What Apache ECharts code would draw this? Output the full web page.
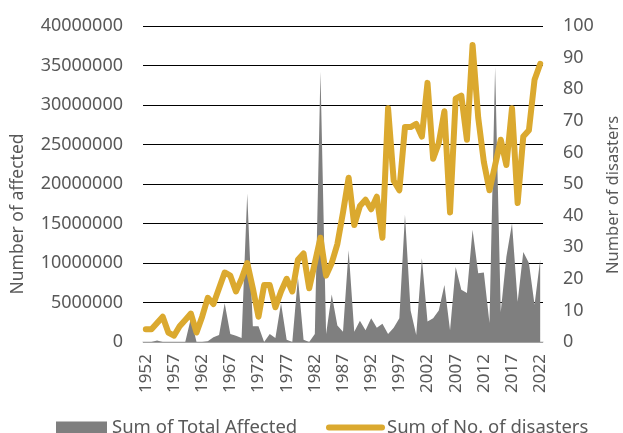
<!DOCTYPE html>
<html lang="en">
<head>
    <meta charset="UTF-8">
    <title>Disasters</title>
    <style>
        html, body { margin: 0; padding: 0; background: #fff; }
        #chart { width: 623px; height: 433px; }
    </style>
</head>
<body>
    <div id="chart"></div>

    <script src="https://cdn.jsdelivr.net/npm/echarts@6/dist/echarts.min.js"></script>
    <script>
        var years = [];
        for (var y = 1952; y <= 2022; y++) years.push(String(y));

        // Sum of Total Affected (people)
        var totalAffected = [
            0, 0, 200000, 0, 0, 0, 0, 0, 3000000, 0,
            0, 100000, 600000, 900000, 4900000, 1000000, 800000, 500000, 18800000, 2000000,
            2000000, 0, 1000000, 500000, 4900000, 300000, 0, 8200000, 300000, 0,
            1000000, 34200000, 1000000, 6000000, 2100000, 1300000, 11600000, 1300000, 2700000, 1500000,
            3000000, 1800000, 2300000, 1000000, 1800000, 3000000, 16100000, 4000000, 900000, 10600000,
            2600000, 3000000, 4000000, 7200000, 1500000, 9500000, 6600000, 6200000, 14200000, 8700000,
            8800000, 2400000, 34800000, 3800000, 10800000, 15000000, 5100000, 11400000, 10000000, 4700000,
            10400000
        ];

        // Sum of No. of disasters
        var numDisasters = [
            4, 4, 6, 8, 3, 2, 5, 7, 9, 3,
            8, 14, 12, 17, 22, 21, 16, 20, 25, 17,
            8, 18, 18, 11, 16, 20, 16, 26, 28, 17,
            25, 33, 21, 25, 31, 41, 52, 37, 43, 45,
            42, 46, 33, 74, 51, 48, 68, 68, 69, 65,
            82, 58, 63, 73, 41, 77, 78, 64, 94, 71,
            57, 48, 56, 64, 56, 74, 44, 65, 67, 83,
            88
        ];

        var leftTicks = { min: 0, max: 40000000, interval: 5000000 };
        var rightTicks = { min: 0, max: 100, interval: 10 };

        var textColor = '#595959';
        var font = 'Noto Sans';
        var gray = '#7f7f7f';
        var gold = '#dba92f';

        var chart = echarts.init(document.getElementById('chart'));

        var legendText = { color: textColor, fontSize: 18.5, fontFamily: font };

        var option = {
            animation: false,
            textStyle: { fontFamily: font },
            grid: { left: 143, right: 80, top: 26, bottom: 91 },
            legend: [
                {
                    left: 51,
                    top: 413,
                    itemWidth: 51,
                    itemHeight: 12,
                    itemGap: 0,
                    textStyle: legendText,
                    data: [{ name: 'Sum of Total Affected', icon: 'rect' }]
                },
                {
                    left: 321,
                    top: 413,
                    itemWidth: 59,
                    itemHeight: 6,
                    itemGap: 0,
                    textStyle: Object.assign({ padding: [0, 0, 0, -3] }, legendText),
                    data: [{
                        name: 'Sum of No. of disasters',
                        icon: 'path://M3,0 L56,0 A3,3 0 0 1 56,6 L3,6 A3,3 0 0 1 3,0 Z'
                    }]
                }
            ],
            xAxis: {
                type: 'category',
                data: years,
                boundaryGap: true,
                axisLine: { lineStyle: { color: '#d9d9d9', width: 1.5 } },
                axisTick: { show: false },
                axisLabel: {
                    interval: 4,
                    rotate: 90,
                    margin: 12,
                    color: textColor,
                    fontSize: 17,
                    fontFamily: font
                }
            },
            yAxis: [
                {
                    type: 'value',
                    min: leftTicks.min,
                    max: leftTicks.max,
                    interval: leftTicks.interval,
                    axisLine: { show: false },
                    axisTick: { show: false },
                    axisLabel: {
                        color: textColor, fontSize: 18, fontFamily: font, margin: 20,
                        formatter: function (v) { return String(v); }
                    },
                    splitLine: { lineStyle: { color: '#000', width: 1.2 } }
                },
                {
                    type: 'value',
                    min: rightTicks.min,
                    max: rightTicks.max,
                    interval: rightTicks.interval,
                    axisLine: { show: false },
                    axisTick: { show: false },
                    axisLabel: { color: textColor, fontSize: 18, fontFamily: font, margin: 20 },
                    splitLine: { show: false }
                }
            ],
            graphic: [
                {
                    type: 'text',
                    x: 18, y: 214,
                    rotation: Math.PI / 2,
                    style: {
                        text: 'Number of affected',
                        fill: textColor,
                        font: '17.5px "Noto Sans"',
                        textAlign: 'center',
                        textVerticalAlign: 'middle'
                    }
                },
                {
                    type: 'text',
                    x: 613, y: 195,
                    rotation: Math.PI / 2,
                    style: {
                        text: 'Number of disasters',
                        fill: textColor,
                        font: '16.5px "Noto Sans"',
                        textAlign: 'center',
                        textVerticalAlign: 'middle'
                    }
                }
            ],
            series: [
                {
                    name: 'Sum of Total Affected',
                    type: 'line',
                    yAxisIndex: 0,
                    data: totalAffected,
                    symbol: 'none',
                    color: gray,
                    lineStyle: { width: 0 },
                    areaStyle: { color: gray, opacity: 1 }
                },
                {
                    name: 'Sum of No. of disasters',
                    type: 'line',
                    yAxisIndex: 1,
                    data: numDisasters,
                    symbol: 'none',
                    color: gold,
                    lineStyle: { width: 6, color: gold, cap: 'round', join: 'round' }
                }
            ]
        };

        chart.setOption(option);
    </script>
</body>
</html>
